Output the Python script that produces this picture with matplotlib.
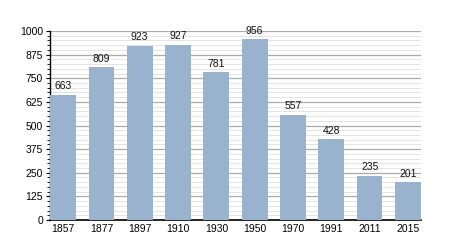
import matplotlib
matplotlib.use("Agg")
import matplotlib.pyplot as plt
from matplotlib.ticker import MultipleLocator

years = ["1857", "1877", "1897", "1910", "1930", "1950", "1970", "1991", "2011", "2015"]
population = [663, 809, 923, 927, 781, 956, 557, 428, 235, 201]
yticks = [0, 125, 250, 375, 500, 625, 750, 875, 1000]

plt.rcParams['font.family'] = ['Liberation Sans', 'DejaVu Sans']

fig = plt.figure(figsize=(4.5, 2.5), dpi=100)
ax = fig.add_axes([50/450, 30/250, 371/450, 189/250])

x = list(range(len(years)))
bars = ax.bar(x, population, width=0.67, color="#99b3ce", zorder=3)
for xi, v in zip(x, population):
    ax.annotate(str(v), (xi, v), xytext=(0, 2.5), textcoords="offset points",
                ha="center", va="bottom", fontsize=7.5, color="#111111", zorder=4)

ax.set_xlim(-0.34, len(years) - 1 + 0.34)
ax.set_ylim(0, 1000)
ax.set_xticks(x)
ax.set_xticklabels(years)
ax.set_yticks(yticks)
ax.yaxis.set_minor_locator(MultipleLocator(25))
ax.grid(axis="y", which="major", color="#ababab", linewidth=0.9, zorder=1)
ax.grid(axis="y", which="minor", color="#e4e4e4", linewidth=0.7, zorder=1)
ax.set_axisbelow(True)

for s in ["top", "right"]:
    ax.spines[s].set_visible(False)
ax.spines["left"].set_linewidth(1.0)
ax.spines["bottom"].set_linewidth(1.2)
ax.tick_params(axis="y", which="major", length=3, width=0.8, labelsize=7.5, pad=2)
ax.tick_params(axis="y", which="minor", length=2, width=0.6)
ax.tick_params(axis="x", length=0, labelsize=7.5, pad=3)

fig.savefig("out.png", dpi=100)
